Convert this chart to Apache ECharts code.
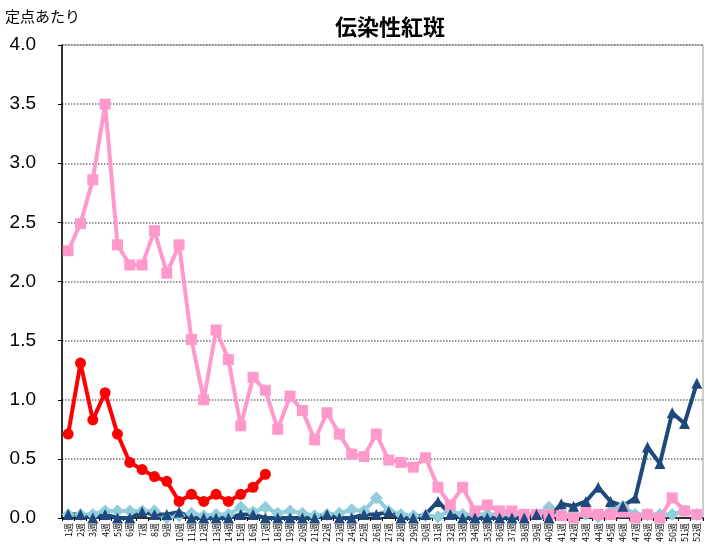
<!DOCTYPE html>
<html>
<head>
<meta charset="utf-8">
<script src="https://cdn.jsdelivr.net/npm/echarts@6/dist/echarts.min.js"></script>
<style>
  html, body { margin: 0; padding: 0; background: #fff; }
  #main { width: 705px; height: 557px; }
</style>
</head>
<body>
<div id="main"></div>
<script>
// 週ラベル
const weeks = [];
for (let i = 1; i <= 52; i++) weeks.push(i + '週');

const yTicks = [0, 0.5, 1, 1.5, 2, 2.5, 3, 3.5, 4];

// 定点あたり報告数
const pinkYear = [2.26, 2.49, 2.86, 3.5, 2.31, 2.14, 2.14, 2.43, 2.07, 2.31,
  1.51, 1.0, 1.59, 1.34, 0.78, 1.19, 1.08, 0.75, 1.03, 0.91,
  0.66, 0.89, 0.71, 0.54, 0.52, 0.71, 0.49, 0.47, 0.43, 0.51,
  0.26, 0.11, 0.26, 0.06, 0.11, 0.06, 0.06, 0.03, 0.03, 0.03,
  0.02, 0.0, 0.05, 0.03, 0.03, 0.05, 0.0, 0.03, 0.0, 0.17,
  0.06, 0.03];

const redYear = [0.71, 1.31, 0.83, 1.06, 0.71, 0.47, 0.41, 0.35, 0.31, 0.14,
  0.2, 0.14, 0.2, 0.14, 0.2, 0.26, 0.37];

const navyYear = [0.03, 0.03, 0.0, 0.03, 0.0, 0.0, 0.05, 0.03, 0.03, 0.05,
  0.0, 0.0, 0.0, 0.0, 0.03, 0.03, 0.0, 0.0, 0.0, 0.0,
  0.0, 0.03, 0.0, 0.0, 0.03, 0.03, 0.05, 0.0, 0.0, 0.03,
  0.14, 0.03, 0.0, 0.0, 0.0, 0.0, 0.0, 0.0, 0.03, 0.0,
  0.12, 0.1, 0.14, 0.26, 0.14, 0.1, 0.17, 0.6, 0.46, 0.89,
  0.8, 1.14];

const skyYear = [0.03, 0.03, 0.03, 0.06, 0.06, 0.06, 0.06, 0.06, 0.0, 0.02,
  0.04, 0.02, 0.03, 0.03, 0.09, 0.05, 0.09, 0.04, 0.06, 0.04,
  0.02, 0.03, 0.04, 0.07, 0.06, 0.17, 0.06, 0.03, 0.02, 0.02,
  0.01, 0.06, 0.03, 0.03, 0.03, 0.03, 0.03, 0.03, 0.03, 0.09,
  0.03, 0.03, 0.03, 0.01, 0.06, 0.1, 0.03, 0.03, 0.03, 0.03,
  0.06, 0.03];

const chart = echarts.init(document.getElementById('main'));

function lineSeries(name, data, color, symbol, size) {
  return {
    name: name,
    type: 'line',
    data: data,
    symbol: symbol,
    symbolSize: size,
    lineStyle: { color: color, width: 4 },
    itemStyle: { color: color },
    animation: false
  };
}

chart.setOption({
  backgroundColor: '#ffffff',
  title: {
    text: '伝染性紅斑',
    left: 385,
    top: 11,
    textAlign: 'center',
    textStyle: { fontSize: 22, fontWeight: 'bold', color: '#000', fontFamily: 'Noto Sans CJK JP' }
  },
  graphic: [{
    type: 'text',
    left: 5,
    top: 9,
    style: { text: '定点あたり', fontSize: 15, fill: '#000', fontFamily: 'Noto Sans CJK JP' }
  }],
  grid: {
    left: 62, right: 2, top: 45, bottom: 39,
    show: true, borderColor: '#999', borderWidth: 1
  },
  xAxis: {
    type: 'category',
    data: weeks,
    boundaryGap: true,
    axisLine: { lineStyle: { color: '#000', width: 1.5 } },
    axisTick: { show: true, length: 3, lineStyle: { color: '#000' } },
    axisLabel: {
      interval: 0, rotate: 90, fontSize: 9, color: '#000', margin: 5,
      fontFamily: 'Noto Sans CJK JP'
    }
  },
  yAxis: {
    type: 'value',
    min: yTicks[0],
    max: yTicks[yTicks.length - 1],
    interval: 0.5,
    axisLine: { show: true, lineStyle: { color: '#000', width: 1.5 } },
    axisTick: { show: true, length: 4, lineStyle: { color: '#000' } },
    splitLine: { lineStyle: { color: '#777', type: 'dotted', width: 1.5 } },
    axisLabel: {
      fontSize: 19, color: '#000', margin: 26,
      fontFamily: 'Liberation Sans',
      formatter: v => v.toFixed(1)
    }
  },
  series: [
    lineSeries('sky', skyYear, '#92CDDC', 'diamond', 13),
    lineSeries('pink', pinkYear, '#FF99CC', 'rect', 11),
    lineSeries('navy', navyYear, '#1F497D', 'triangle', 11),
    lineSeries('red', redYear, '#FF0000', 'circle', 11)
  ]
});
</script>
</body>
</html>
